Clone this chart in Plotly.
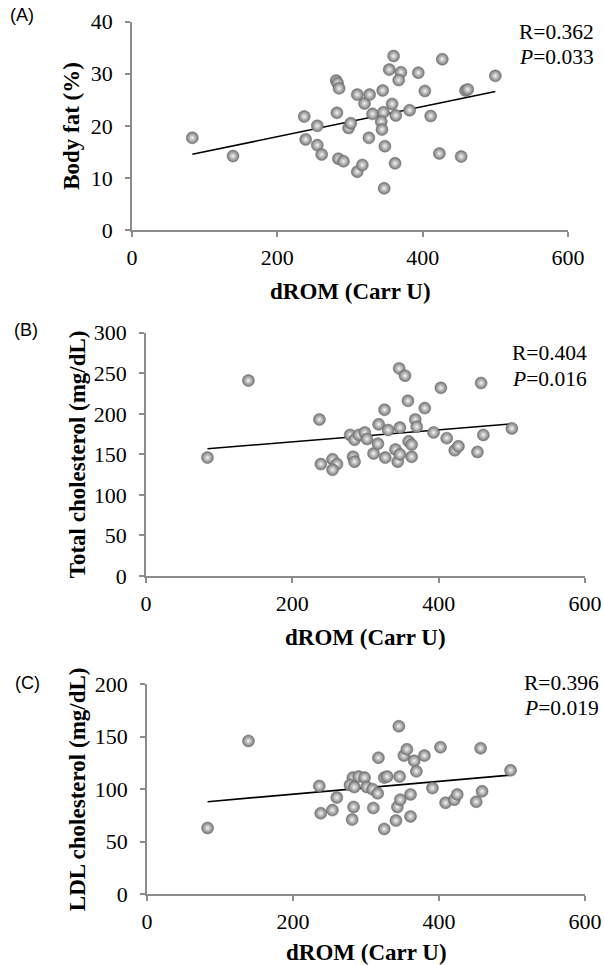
import numpy as np
import plotly.graph_objects as go

# ---- data ----
a_x = [83, 139, 237, 239, 255, 255, 261, 281, 283, 285, 282, 284, 291, 298, 301, 310, 310, 317, 320, 327,
       326, 331, 345, 346, 343, 344, 348, 347, 354, 360, 370, 367, 358, 363, 362, 382, 394, 403, 411, 423,
       427, 453, 459, 462, 500]
a_y = [17.7, 14.2, 21.8, 17.4, 20.0, 16.3, 14.5, 28.7, 28.2, 27.2, 22.5, 13.7, 13.2, 19.6, 20.5, 26.0, 11.2, 12.5, 24.3, 26.0,
       17.7, 22.3, 26.8, 22.6, 20.8, 19.3, 16.1, 8.0, 30.8, 33.4, 30.3, 28.8, 24.2, 22.0, 12.8, 23.0, 30.2, 26.7, 21.9, 14.7,
       32.8, 14.1, 26.8, 27.0, 29.6]

b_x = [84, 140, 237, 239, 255, 261, 255, 279, 283, 285, 285, 291, 299, 302, 311, 318, 317, 326, 327, 331,
       341, 344, 347, 347, 346, 354, 358, 359, 363, 363, 368, 370, 381, 393, 403, 411, 422, 427, 453, 458,
       461, 500]
b_y = [146, 241, 193, 138, 144, 138, 131, 174, 147, 141, 168, 174, 177, 169, 151, 187, 163, 205, 146, 180,
       156, 141, 150, 183, 256, 247, 216, 166, 162, 147, 193, 184, 207, 177, 232, 170, 155, 160, 153, 238,
       174, 182]

c_x = [83, 139, 236, 238, 254, 260, 281, 283, 282, 278, 284, 290, 298, 301, 310, 309, 316, 317, 325, 325,
       329, 341, 343, 347, 346, 345, 352, 356, 361, 361, 366, 369, 380, 391, 402, 409, 421, 425, 451, 457,
       459, 498]
c_y = [63, 146, 103, 77, 80, 92, 71, 83, 111, 104, 102, 112, 111, 102, 82, 100, 96, 130, 62, 111,
       112, 70, 83, 90, 112, 160, 132, 138, 95, 74, 127, 117, 132, 101, 140, 87, 90, 95, 88, 139,
       98, 118]

panel_labels = ["(A)", "(B)", "(C)"]
y_titles = ["Body fat (%)", "Total cholesterol (mg/dL)", "LDL cholesterol (mg/dL)"]
x_title = "dROM (Carr U)"
r_values = ["0.362", "0.404", "0.396"]
p_values = ["0.033", "0.016", "0.019"]
y_ranges = [[0, 40], [0, 300], [0, 200]]
y_dticks = [10, 50, 50]

W, H = 604, 965
# plot-area pixel boxes: (left, right, top, bottom)
boxes = [(132, 568, 21.7, 230), (146, 585, 332.7, 576), (147, 585, 684.3, 894)]
xtitle_off = [61, 61, 58]
stat_pos = [(517, 32, 57), (510, 353, 379), (522, 683, 708)]
label_pos = [(8, 15), (12, 330), (13, 683)]
ytitle_x = [72, 77, 77]

SERIF = "Liberation Serif"
SANS = "Liberation Sans"
AXC = "#8c8c8c"

fig = go.Figure()
series = [(a_x, a_y), (b_x, b_y), (c_x, c_y)]
annotations = []


def ann(text, x, y, size, family=SERIF, xanchor="left", angle=0):
    return dict(text=text, xref="paper", yref="paper", x=x / W, y=1 - y / H,
                xanchor=xanchor, yanchor="middle", textangle=angle, showarrow=False,
                font=dict(family=family, size=size, color="black"))


for i, (xs, ys) in enumerate(series):
    xa = "x" if i == 0 else f"x{i+1}"
    ya = "y" if i == 0 else f"y{i+1}"
    xs_a = np.array(xs, float)
    ys_a = np.array(ys, float)
    k, b = np.polyfit(xs_a, ys_a, 1)
    lx = np.array([xs_a.min(), xs_a.max()])
    fig.add_trace(go.Scatter(x=lx, y=k * lx + b, mode="lines", xaxis=xa, yaxis=ya,
                             line=dict(color="black", width=1.6), hoverinfo="skip", showlegend=False))
    fig.add_trace(go.Scatter(x=xs, y=ys, mode="markers", xaxis=xa, yaxis=ya, showlegend=False,
                             marker=dict(size=12, color="#747474",
                                         gradient=dict(type="radial", color="#f4f4f4"),
                                         line=dict(color="#6a6a6a", width=0.5))))
    l, r, t, bt = boxes[i]
    axis_common = dict(showline=True, linecolor=AXC, linewidth=1.5, ticks="outside", ticklen=5,
                       tickcolor=AXC, tickwidth=1.5, showgrid=False, zeroline=False, automargin=False,
                       tickfont=dict(family=SERIF, size=22, color="black"))
    fig.layout[("xaxis" if i == 0 else f"xaxis{i+1}")] = dict(
        domain=[l / W, r / W], range=[0, 600], dtick=200, tick0=0, anchor=ya,
        ticklabelstandoff=2, **axis_common)
    fig.layout[("yaxis" if i == 0 else f"yaxis{i+1}")] = dict(
        domain=[1 - bt / H, 1 - t / H], range=y_ranges[i], dtick=y_dticks[i], tick0=0, anchor=xa,
        ticklabelstandoff=8, **axis_common)

    annotations.append(ann(f"<b>{x_title}</b>", (l + r) / 2, bt + xtitle_off[i], 23, xanchor="center"))
    annotations.append(ann(f"<b>{y_titles[i]}</b>", ytitle_x[i], (t + bt) / 2, 23, xanchor="center", angle=-90))
    sx, ry, py = stat_pos[i]
    annotations.append(ann(f"R={r_values[i]}", sx, ry, 21.5))
    annotations.append(ann(f"<i>P</i>={p_values[i]}", sx, py, 21.5))
    lx_, ly_ = label_pos[i]
    annotations.append(ann(panel_labels[i], lx_, ly_, 18, family=SANS))

fig.update_layout(width=W, height=H, margin=dict(l=0, r=0, t=0, b=0, autoexpand=False),
                  paper_bgcolor="white", plot_bgcolor="white", annotations=annotations)
fig.write_html("out.html", config={"displayModeBar": False},
               post_script="document.body.style.margin='0';document.body.style.padding='0';"
                           "document.documentElement.style.overflow='hidden';")
